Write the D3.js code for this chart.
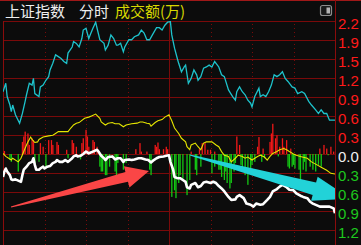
<!DOCTYPE html>
<html>
<head>
<meta charset="utf-8">
<script src="https://cdn.jsdelivr.net/npm/d3@7/dist/d3.min.js"></script>
<style>
  html, body { margin: 0; padding: 0; background: #0c0c0c; overflow: hidden; }
  svg { display: block; }
</style>
</head>
<body>
<div id="chart"></div>
<script>
// intraday chart - values in percent, x in trading minutes (0..240)

var svgWidth = 361;
var svgHeight = 245;

var margin = { top: 21, right: 26, bottom: 15, left: 3 };
var plotW = svgWidth - margin.left - margin.right;   // 332
var plotH = 230 - margin.top;                         // 209 (11 grid rows)

var titleParts = ["上证指数", "分时", "成交额(万)"];

var step = 2.2 / 7;
var tickLabels = ["2.2", "1.9", "1.5", "1.2", "0.9", "0.6", "0.3", "0.0", "0.3", "0.6", "0.9", "1.2"];
var tickSteps = [7, 6, 5, 4, 3, 2, 1, 0, -1, -2, -3, -4];

// cyan line [minute, pct]
var cyanLine = [[0,1.03],[2,1.17],[3,0.95],[5,0.81],[6,0.70],[7,0.81],[9,0.65],[12,0.51],[14,0.67],[16,0.87],
  [17,0.98],[19,1.17],[21,1.14],[22,1.25],[23,1.00],[26,0.95],[27,1.11],[29,1.14],[31,1.22],[33,1.28],
  [34,1.39],[36,1.50],[38,1.64],[40,1.61],[42,1.58],[44,1.53],[46,1.50],[47,1.67],[50,1.77],[51,1.86],
  [53,1.83],[55,1.77],[57,1.91],[58,2.05],[60,2.08],[62,1.91],[63,1.97],[65,2.08],[67,2.18],[68,2.08],
  [70,1.89],[73,1.83],[74,1.72],[76,1.80],[78,1.97],[80,1.91],[82,1.80],[83,1.80],[85,1.83],[87,1.69],
  [88,1.77],[91,1.89],[93,1.89],[95,1.94],[98,1.97],[100,2.05],[102,2.00],[104,1.89],[106,1.89],[108,1.97],
  [111,2.09],[113,2.09],[115,2.05],[117,2.13],[119,2.18],[121,2.19],[122,1.97],[124,1.75],[126,1.58],[127,1.50],
  [129,1.36],[131,1.44],[132,1.47],[134,1.17],[136,1.25],[138,1.39],[140,1.31],[141,1.22],[143,1.28],[145,1.42],
  [147,1.44],[149,1.47],[151,1.44],[153,1.53],[156,1.44],[158,1.31],[160,1.28],[163,1.06],[166,0.95],[168,0.89],
  [169,1.03],[171,1.11],[173,1.03],[175,0.98],[177,0.89],[179,0.84],[180,0.78],[182,0.95],[185,1.09],[186,0.95],
  [188,0.98],[190,0.95],[192,1.03],[194,1.14],[196,1.31],[198,1.28],[200,1.31],[202,1.36],[204,1.25],[206,1.20],
  [209,1.11],[211,1.09],[213,1.00],[216,1.03],[218,1.00],[221,0.87],[223,0.81],[226,0.73],[228,0.67],[230,0.73],
  [232,0.67],[234,0.67],[236,0.56],[240,0.56]];

// yellow line
var yellowLine = [[0,0.01],[2,-0.04],[6,-0.10],[7,-0.07],[11,-0.13],[13,-0.07],[15,0.04],[17,0.15],[18,0.20],[20,0.28],
  [21,0.24],[23,0.19],[25,0.20],[26,0.24],[29,0.28],[33,0.30],[36,0.31],[38,0.34],[40,0.37],[47,0.37],
  [49,0.43],[51,0.48],[53,0.51],[55,0.52],[59,0.59],[62,0.61],[64,0.63],[67,0.66],[70,0.59],[71,0.53],
  [74,0.48],[76,0.51],[79,0.52],[81,0.50],[84,0.50],[87,0.45],[89,0.48],[93,0.50],[97,0.51],[99,0.53],
  [101,0.53],[104,0.51],[106,0.50],[107,0.46],[110,0.52],[112,0.55],[115,0.57],[117,0.61],[120,0.65],[122,0.55],
  [124,0.43],[127,0.34],[129,0.26],[132,0.20],[133,0.12],[135,0.07],[136,0.15],[139,0.18],[141,0.12],[143,0.07],
  [145,0.18],[147,0.20],[151,0.20],[154,0.15],[156,0.12],[158,0.04],[160,-0.02],[163,-0.04],[165,-0.13],[168,-0.07],
  [170,-0.02],[173,-0.04],[175,-0.07],[177,-0.05],[180,-0.10],[184,-0.04],[186,-0.02],[189,-0.05],[191,-0.10],[193,-0.04],
  [195,0.01],[198,0.04],[200,0.07],[203,0.09],[205,0.07],[207,0.04],[210,0.00],[212,-0.02],[215,-0.04],[220,-0.07],
  [223,-0.13],[227,-0.18],[230,-0.22],[234,-0.27],[237,-0.32],[240,-0.33]];

// white line
var whiteLine = [[0,-0.38],[1,-0.29],[2,-0.24],[3,-0.29],[5,-0.35],[6,-0.42],[7,-0.43],[9,-0.42],[11,-0.44],[13,-0.46],
  [14,-0.35],[15,-0.26],[17,-0.21],[19,-0.15],[21,-0.13],[22,-0.07],[23,-0.18],[24,-0.26],[26,-0.26],[27,-0.24],
  [29,-0.21],[30,-0.24],[32,-0.21],[34,-0.20],[36,-0.15],[38,-0.13],[39,-0.10],[41,-0.13],[43,-0.13],[45,-0.10],
  [47,-0.13],[50,-0.07],[51,-0.04],[53,-0.02],[54,-0.04],[56,-0.03],[58,0.00],[60,0.04],[62,0.01],[63,0.02],
  [65,0.04],[68,0.07],[69,0.04],[71,-0.03],[73,-0.07],[74,-0.10],[76,-0.05],[79,-0.04],[81,-0.09],[83,-0.07],
  [85,-0.07],[87,-0.13],[88,-0.10],[91,-0.09],[93,-0.10],[95,-0.09],[98,-0.07],[100,-0.07],[103,-0.09],[105,-0.10],
  [107,-0.14],[109,-0.10],[111,-0.07],[113,-0.05],[116,-0.04],[118,-0.03],[120,-0.02],[121,-0.13],[123,-0.26],[124,-0.38],
  [126,-0.40],[128,-0.40],[130,-0.43],[132,-0.46],[133,-0.55],[135,-0.57],[136,-0.51],[139,-0.48],[141,-0.55],[143,-0.53],
  [145,-0.47],[147,-0.46],[150,-0.48],[152,-0.46],[154,-0.48],[156,-0.53],[158,-0.57],[160,-0.62],[163,-0.71],[165,-0.76],
  [168,-0.75],[169,-0.71],[171,-0.68],[174,-0.73],[176,-0.82],[179,-0.84],[181,-0.87],[183,-0.82],[186,-0.84],[188,-0.83],
  [191,-0.76],[193,-0.71],[195,-0.62],[198,-0.58],[200,-0.54],[202,-0.51],[205,-0.55],[207,-0.59],[210,-0.60],[212,-0.65],
  [215,-0.69],[217,-0.71],[220,-0.73],[222,-0.79],[224,-0.82],[227,-0.85],[229,-0.87],[233,-0.87],[236,-0.87],[239,-0.90],
  [240,-0.98]];

// red (up) bars and green (down) bars
var redBars = [[1,0.05],[14,0.20],[15,0.29],[16,0.37],[18,0.34],[19,0.15],[21,0.26],[22,0.23],[27,0.18],[29,0.12],
  [33,0.23],[35,0.23],[36,0.15],[39,0.20],[40,0.15],[46,0.07],[50,0.23],[51,0.18],[53,0.12],[57,0.18],
  [58,0.26],[60,0.40],[61,0.29],[62,0.12],[65,0.23],[66,0.20],[68,0.12],[96,0.08],[99,0.18],[100,0.04],
  [104,0.04],[110,0.15],[111,0.12],[112,0.19],[113,0.08],[116,0.08],[118,0.12],[119,0.08],[136,0.04],[142,0.08],
  [144,0.18],[146,0.18],[148,0.07],[150,0.07],[153,0.04],[169,0.29],[171,0.15],[184,0.12],[185,0.28],[188,0.09],
  [193,0.20],[194,0.34],[195,0.50],[197,0.26],[198,0.31],[200,0.12],[202,0.26],[203,0.12],[205,0.23],[208,0.09],
  [229,0.09],[232,0.15],[234,0.09],[237,0.12],[239,0.04]];

var greenBars = [[5,-0.10],[6,-0.13],[11,-0.29],[23,-0.15],[26,-0.13],[31,-0.21],[47,-0.07],[56,-0.09],[70,-0.21],[71,-0.29],
  [72,-0.29],[74,-0.35],[75,-0.35],[77,-0.21],[81,-0.29],[82,-0.35],[83,-0.15],[87,-0.26],[89,-0.15],[106,-0.26],
  [107,-0.35],[122,-0.71],[124,-0.60],[125,-0.73],[127,-0.48],[128,-0.35],[130,-0.43],[133,-0.68],[135,-0.43],[139,-0.26],
  [140,-0.35],[143,-0.21],[151,-0.32],[153,-0.21],[156,-0.26],[157,-0.26],[158,-0.38],[160,-0.43],[161,-0.29],[162,-0.48],
  [164,-0.57],[165,-0.48],[167,-0.29],[168,-0.15],[172,-0.18],[173,-0.29],[175,-0.35],[177,-0.51],[179,-0.26],[180,-0.18],
  [182,-0.13],[187,-0.13],[189,-0.07],[199,-0.04],[206,-0.21],[207,-0.24],[209,-0.21],[210,-0.18],[211,-0.24],[214,-0.26],
  [215,-0.43],[217,-0.26],[218,-0.13],[219,-0.29],[222,-0.21],[224,-0.26],[226,-0.29],[228,-0.18],[230,-0.21],[235,-0.02]];

// annotation arrows: tail and tip in [minute, pct]
var redArrow = { tail: [5.8, -0.877], tip: [105.5, -0.281] };
var cyanArrow = { tail: [135.2, -0.017], tip: [251.6, -0.74] };

var svg = d3.select("#chart")
    .append("svg")
    .attr("width", svgWidth)
    .attr("height", svgHeight)
    .style("background", "#0c0c0c");

var x = d3.scaleLinear().domain([0, 240]).range([margin.left, margin.left + plotW]);
var y = d3.scaleLinear().domain([-4 * step, 7 * step]).range([margin.top + plotH, margin.top]);

svg.append("defs").append("clipPath").attr("id", "plotClip")
  .append("rect")
  .attr("x", margin.left).attr("y", margin.top)
  .attr("width", plotW).attr("height", svgHeight - margin.top);

// grid
var gridColor = "#7a0a0a";
var yGrid = svg.append("g");
tickSteps.forEach(function(k) {
  yGrid.append("line")
    .attr("x1", margin.left).attr("x2", margin.left + plotW)
    .attr("y1", Math.round(y(k * step)) + 0.5).attr("y2", Math.round(y(k * step)) + 0.5)
    .attr("stroke", gridColor).attr("stroke-width", 1);
});

var vMinutes = [30, 60, 90, 120, 150, 180, 210];
vMinutes.forEach(function(m) {
  svg.append("line")
    .attr("x1", Math.round(x(m)) + 0.5).attr("x2", Math.round(x(m)) + 0.5)
    .attr("y1", m === 120 ? margin.top : margin.top + 3).attr("y2", svgHeight)
    .attr("stroke", gridColor)
    .attr("stroke-width", 1)
    .attr("stroke-dasharray", m === 120 ? null : "1,3");
});

// frame
svg.append("line").attr("x1", 0).attr("x2", svgWidth).attr("y1", 0.5).attr("y2", 0.5)
  .attr("stroke", "#a01818");
svg.append("line").attr("x1", margin.left + 0.5).attr("x2", margin.left + 0.5)
  .attr("y1", margin.top).attr("y2", svgHeight).attr("stroke", "#8a0c0c");
svg.append("line").attr("x1", margin.left + plotW + 0.5).attr("x2", margin.left + plotW + 0.5)
  .attr("y1", 0).attr("y2", svgHeight).attr("stroke", "#8a0c0c");

var plot = svg.append("g").attr("clip-path", "url(#plotClip)");

// bars
plot.selectAll(".rbar").data(redBars).enter().append("rect")
  .attr("x", function(d) { return x(d[0]) - 0.6; })
  .attr("y", function(d) { return y(d[1]); })
  .attr("width", 1.3)
  .attr("height", function(d) { return y(0) - y(d[1]); })
  .attr("fill", "#f01818");

plot.selectAll(".gbar").data(greenBars).enter().append("rect")
  .attr("x", function(d) { return x(d[0]) - 0.6; })
  .attr("y", y(0))
  .attr("width", 1.3)
  .attr("height", function(d) { return y(d[1]) - y(0); })
  .attr("fill", "#14c814");

var line = d3.line()
  .x(function(d) { return x(d[0]); })
  .y(function(d) { return y(d[1]); });

plot.append("path").datum(yellowLine)
  .attr("d", line).attr("fill", "none")
  .attr("stroke", "#e6e600").attr("stroke-width", 1.1);

plot.append("path").datum(cyanLine)
  .attr("d", line).attr("fill", "none")
  .attr("stroke", "#1ec3cc").attr("stroke-width", 1.3);

plot.append("path").datum(whiteLine)
  .attr("d", line).attr("fill", "none")
  .attr("stroke", "#ffffff").attr("stroke-width", 2.6)
  .attr("stroke-linejoin", "round");

// arrow shape built from tail/tip
function arrowPath(a, tailHalf, shaftHalf, headLen, headHalf) {
  var tx = x(a.tail[0]), ty = y(a.tail[1]);
  var px = x(a.tip[0]), py = y(a.tip[1]);
  var len = Math.hypot(px - tx, py - ty);
  var ux = (px - tx) / len, uy = (py - ty) / len;
  var nx = -uy, ny = ux;
  var bx = px - ux * headLen, by = py - uy * headLen;
  var pts = [
    [tx + nx * tailHalf, ty + ny * tailHalf],
    [bx + nx * shaftHalf, by + ny * shaftHalf],
    [bx + nx * headHalf, by + ny * headHalf],
    [px, py],
    [bx - nx * headHalf, by - ny * headHalf],
    [bx - nx * shaftHalf, by - ny * shaftHalf],
    [tx - nx * tailHalf, ty - ny * tailHalf]
  ];
  return d3.line()(pts) + "Z";
}

plot.append("path")
  .attr("d", arrowPath(redArrow, 0.6, 5, 23, 11))
  .attr("fill", "#fa4646");

plot.append("path")
  .attr("d", arrowPath(cyanArrow, 0.6, 6.5, 38, 12.5))
  .attr("fill", "#22d2d8");

// right axis labels
var labelColor = function(k) { return k > 0 ? "#ff1a1a" : (k === 0 ? "#f0f0f0" : "#1ec81e"); };
svg.append("g").selectAll("text").data(tickSteps).enter().append("text")
  .attr("x", 338)
  .attr("y", function(k) { return y(k * step) + 7.5; })
  .attr("fill", function(k) { return labelColor(k); })
  .style("font-family", "'Liberation Sans', Arial, sans-serif")
  .style("font-size", "15px")
  .text(function(k, i) { return tickLabels[i]; });

// title
var title = svg.append("text")
  .attr("x", 5).attr("y", 17)
  .style("font-family", "'Noto Sans CJK SC', sans-serif")
  .style("font-size", "15px");
title.append("tspan").attr("fill", "#eeeeee").text(titleParts[0]);
title.append("tspan").attr("x", 79).attr("fill", "#eeeeee").text(titleParts[1]);
title.append("tspan").attr("x", 115).attr("fill", "#d8d800").text(titleParts[2]);

// small toggle icon top right
svg.append("rect").attr("x", 320.5).attr("y", 5.5).attr("width", 11).attr("height", 10).attr("rx", 2)
  .attr("fill", "#1a1a1a").attr("stroke", "#8c8c8c").attr("stroke-width", 1.2);
svg.append("rect").attr("x", 326.5).attr("y", 7.5).attr("width", 3.5).attr("height", 6)
  .attr("fill", "#b4b4b4");
</script>
</body>
</html>
